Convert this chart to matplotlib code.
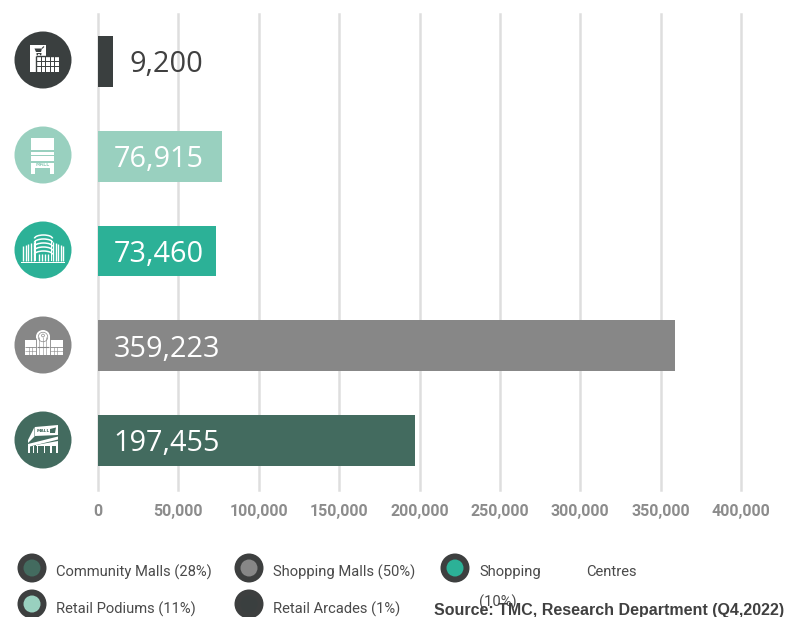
import matplotlib
matplotlib.use("Agg")
import matplotlib.pyplot as plt
from matplotlib.patches import Circle, Rectangle, Polygon, Arc, Ellipse

categories = ["Retail Arcades", "Retail Podiums", "Shopping Centres", "Shopping Malls", "Community Malls"]
values = [9200, 76915, 73460, 359223, 197455]
bar_colors = ["#3a3f3f", "#99d0bf", "#2cb197", "#878787", "#436b5f"]
label_colors = ["#404040", "white", "white", "white", "white"]
x_ticks = [0, 50000, 100000, 150000, 200000, 250000, 300000, 350000, 400000]
legend_labels = ["Community Malls (28%)", "Shopping Malls (50%)", "Retail Podiums (11%)", "Retail Arcades (1%)"]
source_text = "Source: TMC, Research Department (Q4,2022)"

W, H = 788, 617
fig = plt.figure(figsize=(W / 100, H / 100), dpi=100, facecolor="white")

# Bar panel, placed in pixel terms
left, right, top, bottom = 98, 741, 14, 490
ax = fig.add_axes([left / W, 1 - bottom / H, (right - left) / W, (bottom - top) / H])
ypos = list(range(len(categories)))
ax.barh(ypos, values, height=0.538, color=bar_colors, zorder=3)
ax.set_xlim(0, 400000)
ax.set_ylim(4.522, -0.501)
ax.set_yticks([])
ax.set_xticks(x_ticks)
ax.set_xticklabels([f"{t:,}" for t in x_ticks], family="Roboto", fontweight="bold",
                   fontsize=11.5, color="#8c8c8c")
ax.tick_params(axis="x", length=0, pad=10)
ax.grid(axis="x", color="#dedede", linewidth=1.8, zorder=0)
for s in ax.spines.values():
    s.set_visible(False)
for line in ax.get_xgridlines():
    line.set_clip_on(False)

# Value labels sit inside each bar, or just past the short one
for i, v in enumerate(values):
    xpos = 19500 if v < 20000 else 9800
    ax.text(xpos, i + 0.035, f"{v:,}", family="Open Sans", fontsize=20.8, color=label_colors[i],
            va="center", ha="left", zorder=4)

# Overlay in pixel coordinates for the badges, legend and source line
ov = fig.add_axes([0, 0, 1, 1], facecolor="none")
ov.set_xlim(0, W)
ov.set_ylim(H, 0)
ov.axis("off")


def rect(x0, y0, x1, y1, c="white", z=6):
    ov.add_patch(Rectangle((x0, y0), x1 - x0, y1 - y0, fc=c, ec="none", zorder=z))


def stroke(xs, ys, c="white", lw=0.7, z=7):
    ov.plot(xs, ys, color=c, lw=lw, zorder=z, solid_capstyle="butt")


badge_y = [60, 155, 250, 345, 440]
for cy, c in zip(badge_y, bar_colors):
    ov.add_patch(Circle((43, cy), 28.5, fc=c, ec="none", zorder=5))

# Arcade: storefront block with a glazed grid and a trolley
d = bar_colors[0]
rect(30, 45, 46, 72)
rect(36, 56, 59, 72)
stroke([36, 36], [56, 72], d, 1.0)
stroke([36, 59], [56, 56], d, 1.0)
for gx in [41, 45.5, 50, 54.5]:
    stroke([gx, gx], [56, 72], d)
for gy in [61, 66]:
    stroke([36, 59], [gy, gy], d)
ov.add_patch(Polygon([(34.5, 48.5), (42, 48.5), (41, 52), (36, 52)], fc=d, ec="none", zorder=7))
stroke([42, 44], [48.5, 46.5], d, 0.8)
stroke([36, 41.5], [53.3, 53.3], d, 0.7)
ov.add_patch(Circle((37.3, 54.6), 0.8, fc=d, ec="none", zorder=7))
ov.add_patch(Circle((40.6, 54.6), 0.8, fc=d, ec="none", zorder=7))

# Podium: stacked floors over a two-legged base
rect(31, 138, 54, 150)
rect(31, 151.5, 54, 154.5)
rect(31, 156, 54, 161)
rect(31, 163, 54, 174)
rect(35, 168, 50, 174, bar_colors[1], 7)
ov.text(42.5, 165, "MALL", fontsize=3.4, color=bar_colors[1], ha="center", va="center", zorder=8,
        family="DejaVu Sans", fontweight="bold")

# Shopping centre: curved tower flanked by lower striped slabs
rect(21, 261.5, 65, 262.7)
for x0, x1, y_outer, y_inner in [(23, 34, 245.5, 242), (63.5, 53, 245.5, 242)]:
    n = 5
    for k in range(n):
        xk = x0 + (x1 - x0) * k / (n - 1)
        yk = y_outer + (y_inner - y_outer) * k / (n - 1)
        stroke([xk, xk], [yk, 260.5], "white", 1.0, 6)
rect(35, 240, 36, 260.5)
rect(51, 240, 52, 260.5)
for yy in [235, 239, 243, 247, 251]:
    ov.add_patch(Arc((43.5, yy + 3.5), 18, 7, theta1=180, theta2=360, ec="white", lw=1.1, zorder=6))
for gx in [39.5, 42.5, 45.5, 48.5]:
    stroke([gx, gx], [254, 261], "white", 1.0, 6)

# Shopping mall: arched atrium between two wings
g = bar_colors[3]
rect(25, 340, 63, 354.5)
rect(36, 336, 50, 354.5)
ov.add_patch(Ellipse((43, 336.5), 14, 13, fc="white", ec="none", zorder=6))
ov.add_patch(Ellipse((43, 337), 9.5, 9.5, fc="none", ec=g, lw=0.5, zorder=7))
ov.add_patch(Circle((43, 335.5), 1.4, fc="none", ec=g, lw=0.5, zorder=7))
stroke([36, 36], [338, 354.5], g, 0.6)
stroke([50, 50], [338, 354.5], g, 0.6)
for gx in [39.5, 43, 46.5]:
    stroke([gx, gx], [337, 354.5], g, 0.4)
stroke([37, 49], [347, 347], g, 0.8)
for x0, x1 in [(25, 36), (50, 63)]:
    stroke([x0, x1], [347, 347], g, 0.6)
    stroke([x0, x1], [351, 351], g, 0.4)
    for gx in [x0 + 3.7, x0 + 7.4]:
        stroke([gx, gx], [347, 354.5], g, 0.4)

# Community mall: angled signage block over a colonnade
t = bar_colors[4]
ov.add_patch(Polygon([(35, 427), (58, 425), (58, 435), (35, 436)], fc="white", ec="none", zorder=6))
ov.add_patch(Polygon([(28, 440), (34.5, 427), (34.5, 436.5), (28, 443)], fc="white", ec="none", zorder=6))
ov.add_patch(Polygon([(28, 444), (58, 436.5), (58, 439.5), (28, 447)], fc="white", ec="none", zorder=6))
ov.add_patch(Polygon([(36, 445), (58, 441), (58, 446), (36, 446)], fc="white", ec="none", zorder=6))
ov.text(43, 431.5, "MALL", fontsize=3.2, color=t, ha="center", va="center", zorder=9, fontweight="bold")
ov.add_patch(Polygon([(50, 429), (56, 427.5), (55, 433), (50, 433)], fc=t, ec="none", zorder=9))
for x0, x1 in [(28, 30), (33, 34.5), (37, 38.5), (44, 45.5), (50.5, 52), (56, 58)]:
    rect(x0, 446, x1, 453)

# Hand-placed legend: ringed dots with a label to the right
ring = "#3d3f3f"
legend_rows = [
    (32, 568, bar_colors[4], 56, legend_labels[0]),
    (249, 568, bar_colors[3], 273, legend_labels[1]),
    (32, 604, bar_colors[1], 56, legend_labels[2]),
    (249, 604, bar_colors[0], 273, legend_labels[3]),
]
text_grey = "#4a4a4a"
for cx, cy, c, tx, label in legend_rows:
    ov.add_patch(Circle((cx, cy), 14.5, fc=ring, ec="none", zorder=5))
    ov.add_patch(Circle((cx, cy), 8.5, fc=c, ec="none", zorder=6))
    ov.text(tx, 572 if cy < 600 else 609, label, family="Roboto", fontsize=10.6, color=text_grey,
            va="center", zorder=6)

ov.add_patch(Circle((455, 568), 14.5, fc=ring, ec="none", zorder=5))
ov.add_patch(Circle((455, 568), 8.5, fc=bar_colors[2], ec="none", zorder=6))
ov.text(479, 572, "Shopping", family="Roboto", fontsize=10.6, color=text_grey, va="center", zorder=6)
ov.text(586, 572, "Centres", family="Roboto", fontsize=10.6, color=text_grey, va="center", zorder=6)
ov.text(479, 602, "(10%)", family="Roboto", fontsize=10.6, color=text_grey, va="center", zorder=6)

ov.text(434, 610, source_text, family="Liberation Sans", fontweight="bold", fontsize=11.55,
        color="#404040", va="center", zorder=7)

fig.savefig("out.png", dpi=100, facecolor="white")
